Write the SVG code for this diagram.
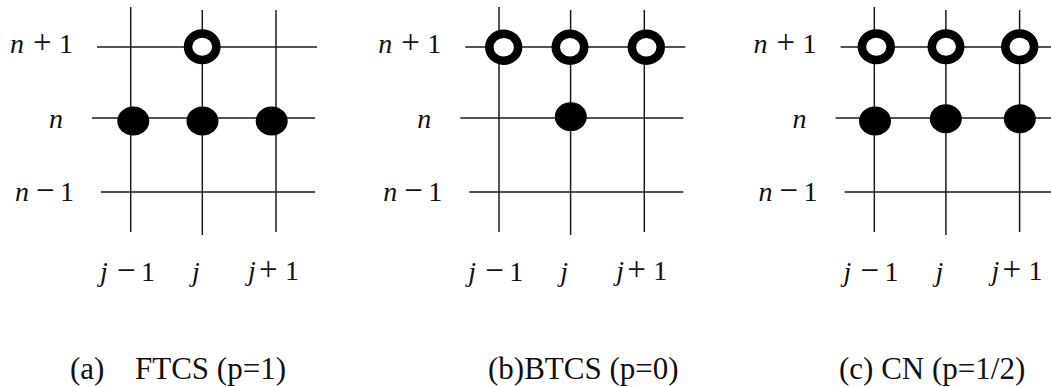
<svg xmlns="http://www.w3.org/2000/svg" width="1051" height="387" viewBox="0 0 1051 387">
<style>
.grid line{stroke:#1a1a1a;stroke-width:1.5;fill:none}
.open{fill:#fff;stroke:#000;stroke-width:8.5}
.full{fill:#000;stroke:none}
.lbl{font-family:"Liberation Serif","Times New Roman",serif;font-size:28px;fill:#111}
.it{font-style:italic}
.op{font-size:33px}
.cap{font-family:"Liberation Serif","Times New Roman",serif;font-size:31px;fill:#111}
</style>
<rect width="1051" height="387" fill="#fff"/>

<!-- Panel (a) FTCS -->
<g id="panel-a">
  <g class="grid" id="grid-a">
    <line x1="130.7" y1="7" x2="130.7" y2="232"/>
    <line x1="202.3" y1="10" x2="202.3" y2="235"/>
    <line x1="276" y1="10" x2="276" y2="232"/>
    <line x1="97" y1="47" x2="317" y2="47"/>
    <line x1="92" y1="118" x2="315" y2="118"/>
    <line x1="101" y1="192" x2="315" y2="192"/>
  </g>
  <g id="a-open-j"><ellipse class="open" cx="202.2" cy="46.8" rx="14.2" ry="13.3"/></g>
  <g id="a-full-jm1"><ellipse class="full" cx="133.3" cy="121" rx="16" ry="14.5"/></g>
  <g id="a-full-j"><ellipse class="full" cx="202.5" cy="121" rx="16" ry="14.5"/></g>
  <g id="a-full-jp1"><ellipse class="full" cx="271.7" cy="121" rx="16" ry="14.5"/></g>
  <g class="lbl" id="a-labels">
    <text y="53"><tspan x="10" class="it">n</tspan><tspan x="33" class="op">+</tspan><tspan x="59">1</tspan></text>
    <text y="128"><tspan x="49" class="it">n</tspan></text>
    <text y="201"><tspan x="15" class="it">n</tspan><tspan x="36" class="op">−</tspan><tspan x="60">1</tspan></text>
    <text y="281"><tspan x="100" class="it">j</tspan><tspan x="117" class="op">−</tspan><tspan x="141">1</tspan></text>
    <text y="281"><tspan x="192" class="it">j</tspan></text>
    <text y="280"><tspan x="248" class="it">j</tspan><tspan x="259" class="op">+</tspan><tspan x="285">1</tspan></text>
  </g>
  <text class="cap" x="70" y="379">(a)</text>
  <text class="cap" x="135" y="379">FTCS (p=1)</text>
</g>

<!-- Panel (b) BTCS -->
<g id="panel-b">
  <g class="grid" id="grid-b" transform="translate(368.3,0)">
    <line x1="130.7" y1="7" x2="130.7" y2="232"/>
    <line x1="202.3" y1="10" x2="202.3" y2="235"/>
    <line x1="276" y1="10" x2="276" y2="232"/>
    <line x1="97" y1="47" x2="317" y2="47"/>
    <line x1="92" y1="118" x2="315" y2="118"/>
    <line x1="101" y1="192" x2="315" y2="192"/>
  </g>
  <g id="b-open-jm1"><ellipse class="open" cx="503.7" cy="47.2" rx="14.4" ry="13.5"/></g>
  <g id="b-open-j"><ellipse class="open" cx="570" cy="47.2" rx="14.2" ry="13.5"/></g>
  <g id="b-open-jp1"><ellipse class="open" cx="646.3" cy="47.2" rx="14.4" ry="13.5"/></g>
  <g id="b-full-j"><ellipse class="full" cx="570.8" cy="116.7" rx="16" ry="14.4"/></g>
  <g class="lbl" id="b-labels" transform="translate(368.3,0)">
    <text y="53"><tspan x="10" class="it">n</tspan><tspan x="33" class="op">+</tspan><tspan x="59">1</tspan></text>
    <text y="128"><tspan x="49" class="it">n</tspan></text>
    <text y="201"><tspan x="15" class="it">n</tspan><tspan x="36" class="op">−</tspan><tspan x="60">1</tspan></text>
    <text y="281"><tspan x="100" class="it">j</tspan><tspan x="117" class="op">−</tspan><tspan x="141">1</tspan></text>
    <text y="281"><tspan x="192" class="it">j</tspan></text>
    <text y="280"><tspan x="248" class="it">j</tspan><tspan x="259" class="op">+</tspan><tspan x="285">1</tspan></text>
  </g>
  <text class="cap" x="488" y="379">(b)BTCS (p=0)</text>
</g>

<!-- Panel (c) CN -->
<g id="panel-c">
  <g class="grid" id="grid-c" transform="translate(743.6,0)">
    <line x1="130.7" y1="7" x2="130.7" y2="232"/>
    <line x1="202.3" y1="10" x2="202.3" y2="235"/>
    <line x1="276" y1="10" x2="276" y2="232"/>
    <line x1="97" y1="47" x2="317" y2="47"/>
    <line x1="92" y1="118" x2="315" y2="118"/>
    <line x1="101" y1="192" x2="315" y2="192"/>
  </g>
  <g id="c-open-jm1"><ellipse class="open" cx="876.3" cy="46.7" rx="14.4" ry="13.3"/></g>
  <g id="c-open-j"><ellipse class="open" cx="946" cy="46.7" rx="14.2" ry="13.3"/></g>
  <g id="c-open-jp1"><ellipse class="open" cx="1019.7" cy="46.7" rx="14.4" ry="13.3"/></g>
  <g id="c-full-jm1"><ellipse class="full" cx="875" cy="121" rx="16" ry="14.5"/></g>
  <g id="c-full-j"><ellipse class="full" cx="945.8" cy="118.8" rx="16" ry="14.5"/></g>
  <g id="c-full-jp1"><ellipse class="full" cx="1019.8" cy="118.8" rx="16" ry="14.5"/></g>
  <g class="lbl" id="c-labels" transform="translate(743.6,0)">
    <text y="53"><tspan x="10" class="it">n</tspan><tspan x="33" class="op">+</tspan><tspan x="59">1</tspan></text>
    <text y="128"><tspan x="49" class="it">n</tspan></text>
    <text y="201"><tspan x="15" class="it">n</tspan><tspan x="36" class="op">−</tspan><tspan x="60">1</tspan></text>
    <text y="281"><tspan x="100" class="it">j</tspan><tspan x="117" class="op">−</tspan><tspan x="141">1</tspan></text>
    <text y="281"><tspan x="192" class="it">j</tspan></text>
    <text y="280"><tspan x="248" class="it">j</tspan><tspan x="259" class="op">+</tspan><tspan x="285">1</tspan></text>
  </g>
  <text class="cap" x="839" y="379">(c) CN (p=1/2)</text>
</g>
</svg>
